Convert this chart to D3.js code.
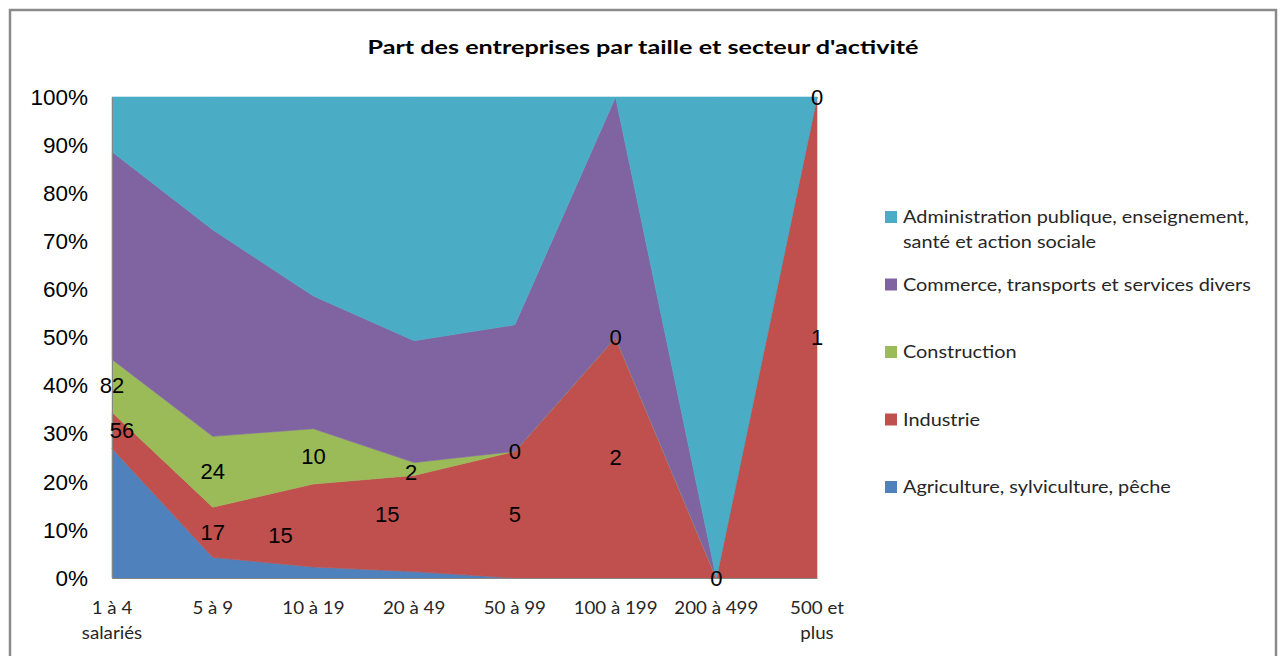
<!DOCTYPE html>
<html>
<head>
<meta charset="utf-8">
<script src="https://cdn.jsdelivr.net/npm/d3@7"></script>
<style>
  html, body { margin: 0; padding: 0; background: #fff; }
  svg { display: block; }
</style>
</head>
<body>
<svg id="chart" width="1281" height="656"></svg>
<script>
// ---- Data ----
const categories = ["1 à 4 salariés", "5 à 9", "10 à 19", "20 à 49", "50 à 99", "100 à 199", "200 à 499", "500 et plus"];
const categoryLines = [["1 à 4", "salariés"], ["5 à 9"], ["10 à 19"], ["20 à 49"], ["50 à 99"], ["100 à 199"], ["200 à 499"], ["500 et", "plus"]];
const seriesNames = [
  "Agriculture, sylviculture, pêche",
  "Industrie",
  "Construction",
  "Commerce, transports et services divers",
  "Administration publique, enseignement, santé et action sociale"
];
const agriculture   = [201, 7, 2, 1, 0, 0, 0, 0];
const industrie     = [56, 17, 15, 15, 5, 2, 0, 1];
const construction  = [82, 24, 10, 2, 0, 0, 0, 0];
const commerce      = [322, 70, 24, 19, 5, 2, 0, 0];
const administration = [85, 45, 36, 38, 9, 0, 1, 0];
const yTicks = [0, 0.1, 0.2, 0.3, 0.4, 0.5, 0.6, 0.7, 0.8, 0.9, 1];
const title = "Part des entreprises par taille et secteur d'activité";
const legendLines = [
  ["Administration publique, enseignement,", "santé et action sociale"],
  ["Commerce, transports et services divers"],
  ["Construction"],
  ["Industrie"],
  ["Agriculture, sylviculture, pêche"]
];
const labelledSeries = ["Industrie", "Construction"];

// ---- Styles ----
const colors = {
  "Agriculture, sylviculture, pêche": "#4F81BD",
  "Industrie": "#C0504D",
  "Construction": "#9BBB59",
  "Commerce, transports et services divers": "#8064A2",
  "Administration publique, enseignement, santé et action sociale": "#4BACC6"
};
// manual label nudges (Excel moved some labels inside their areas)
const labelNudge = { "Industrie|2": [-33, 10], "Industrie|3": [-27, -9], "Industrie|0": [10, 0], "Construction|3": [-3, 4] };
const uiFont = "Lato, 'Open Sans', sans-serif";
const numFont = "'Liberation Sans', Arial, sans-serif";

const svg = d3.select("#chart");
const plot = { left: 112, right: 817, top: 97, bottom: 578 };

// frame
svg.append("rect").attr("x", 10).attr("y", 10).attr("width", 1266).attr("height", 700)
  .attr("fill", "#fff").attr("stroke", "#8a8a8a").attr("stroke-width", 2.5);

// title
svg.append("text").attr("transform", "translate(643,47) scale(1.29,1)").attr("text-anchor", "middle")
  .attr("dominant-baseline", "central")
  .style("font-family", uiFont).style("font-weight", "bold")
  .style("font-size", "19.5px").attr("fill", "#000").text(title);

// data table
const table = categories.map((c, i) => ({
  cat: c,
  [seriesNames[0]]: agriculture[i],
  [seriesNames[1]]: industrie[i],
  [seriesNames[2]]: construction[i],
  [seriesNames[3]]: commerce[i],
  [seriesNames[4]]: administration[i]
}));

const x = d3.scalePoint().domain(categories).range([plot.left, plot.right]);
const y = d3.scaleLinear().domain([0, 1]).range([plot.bottom, plot.top]);

const stack = d3.stack().keys(seriesNames).offset(d3.stackOffsetExpand);
const stacked = stack(table);

const area = d3.area()
  .x(d => x(d.data.cat))
  .y0(d => y(d[0]))
  .y1(d => y(d[1]));

svg.append("g").selectAll("path").data(stacked).join("path")
  .attr("d", area)
  .attr("fill", d => colors[d.key])
  .attr("stroke", d => colors[d.key])
  .attr("stroke-width", 0.6);

// y axis
const yAxis = d3.axisLeft(y).tickValues(yTicks).tickFormat(d3.format(".0%")).tickSize(0).tickPadding(24);
const gy = svg.append("g").attr("transform", `translate(${plot.left},0)`).call(yAxis);
gy.select(".domain").attr("stroke", "#868686").attr("stroke-width", 1);
gy.selectAll("text").style("font-family", numFont)
  .style("font-size", "22.5px").attr("fill", "#000");

// x axis line
const xAxis = d3.axisBottom(x).tickSize(0).tickFormat("");
const gx = svg.append("g").attr("transform", `translate(0,${plot.bottom})`).call(xAxis);
gx.select(".domain").attr("stroke", "#868686").attr("stroke-width", 1);

// x labels
const xl = svg.append("g");
categories.forEach((c, i) => {
  const t = xl.append("text").attr("transform", `translate(${x(c)},607) scale(1.1,1)`).attr("text-anchor", "middle")
    .attr("dominant-baseline", "central")
    .style("font-family", uiFont).style("font-size", "17px").attr("fill", "#262626");
  categoryLines[i].forEach((ln, k) => {
    t.append("tspan").attr("x", 0).attr("dy", k === 0 ? 0 : 25).text(ln);
  });
});

// data labels (skip exact duplicates at the same spot)
const lg = svg.append("g");
const seen = new Set();
stacked.filter(s => labelledSeries.includes(s.key)).forEach(s => {
  s.forEach((d, i) => {
    const nud = labelNudge[s.key + "|" + i] || [0, 0];
    const px = x(d.data.cat) + nud[0];
    const py = y((d[0] + d[1]) / 2) + nud[1];
    const key = Math.round(px) + "," + Math.round(py) + "," + d.data[s.key];
    if (seen.has(key)) return;
    seen.add(key);
    lg.append("text")
      .attr("x", px).attr("y", py)
      .attr("text-anchor", "middle").attr("dominant-baseline", "central")
      .style("font-family", numFont).style("font-size", "22px")
      .attr("fill", "#000")
      .text(d.data[s.key]);
  });
});

// legend
const legendOrder = seriesNames.slice().reverse();
const leg = svg.append("g");
legendOrder.forEach((name, i) => {
  const cy = 217 + i * 67.5;
  leg.append("rect").attr("x", 885).attr("y", cy - 6).attr("width", 12).attr("height", 12)
    .attr("fill", colors[name]);
  const t = leg.append("text").attr("transform", `translate(903,${cy}) scale(1.17,1)`).attr("dominant-baseline", "central")
    .style("font-family", uiFont).style("font-size", "17px").attr("fill", "#262626");
  legendLines[i].forEach((ln, k) => {
    t.append("tspan").attr("x", 0).attr("dy", k === 0 ? 0 : 25).text(ln);
  });
});
</script>
</body>
</html>
